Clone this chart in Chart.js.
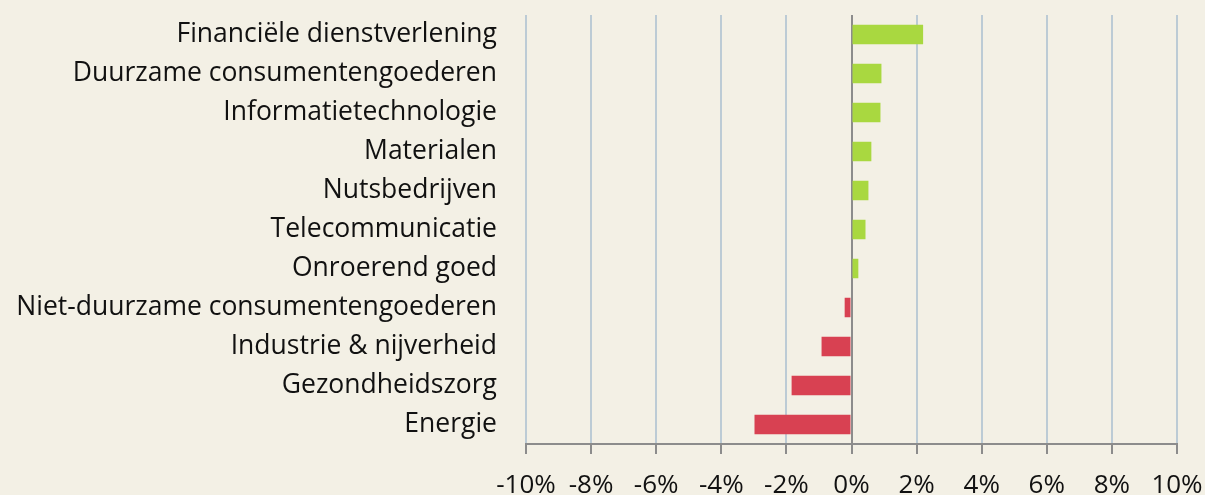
<!DOCTYPE html>
<html>
<head>
<meta charset="utf-8">
<script src="https://cdn.jsdelivr.net/npm/chart.js@4"></script>
<style>
html,body{margin:0;padding:0;background:#f3f0e5;}
#wrap{width:1205px;height:495px;position:relative;}
</style>
</head>
<body>
<div id="wrap"><canvas id="c" width="1205" height="495"></canvas></div>
<script>
const categories = [
  "Financiële dienstverlening",
  "Duurzame consumentengoederen",
  "Informatietechnologie",
  "Materialen",
  "Nutsbedrijven",
  "Telecommunicatie",
  "Onroerend goed",
  "Niet-duurzame consumentengoederen",
  "Industrie & nijverheid",
  "Gezondheidszorg",
  "Energie"
];
const values = [2.2, 0.92, 0.89, 0.61, 0.52, 0.43, 0.21, -0.21, -0.92, -1.84, -2.98];
const xTicks = [-10, -8, -6, -4, -2, 0, 2, 4, 6, 8, 10];

const GREEN = '#a9d840';
const RED = '#d84152';

new Chart(document.getElementById('c'), {
  type: 'bar',
  data: {
    labels: categories,
    datasets: [{
      data: values,
      backgroundColor: values.map(v => v >= 0 ? GREEN : RED),
      borderWidth: 0,
      barPercentage: 0.5,
      categoryPercentage: 1.0
    }]
  },
  options: {
    indexAxis: 'y',
    responsive: false,
    animation: false,
    layout: { padding: { left: 0, right: 28, top: 15, bottom: 0 } },
    plugins: { legend: { display: false }, tooltip: { enabled: false } },
    scales: {
      x: {
        min: -10, max: 10,
        afterBuildTicks: s => { s.ticks = xTicks.map(v => ({ value: v })); },
        afterFit: s => { s.height = 51; s.paddingLeft = 0; s.paddingRight = 0; },
        grid: {
          color: ctx => ctx.tick && ctx.tick.value === 0 ? '#8c8c8c' : '#bccbd5',
          lineWidth: 2,
          tickLength: 10,
          tickColor: '#8c8c8c',
          drawOnChartArea: true
        },
        border: { display: true, color: '#8c8c8c', width: 2 },
        ticks: {
          callback: v => v + '%',
          font: { family: 'Open Sans', size: 26 },
          color: '#111',
          padding: 16,
          maxRotation: 0,
          autoSkip: false
        }
      },
      y: {
        afterFit: s => { s.width = 526; s.paddingTop = 0; s.paddingBottom = 0; },
        grid: { display: false },
        border: { display: false },
        ticks: {
          font: { family: 'Open Sans', size: 26.5 },
          color: '#111',
          padding: 21,
          autoSkip: false
        }
      }
    }
  }
});
</script>
</body>
</html>
